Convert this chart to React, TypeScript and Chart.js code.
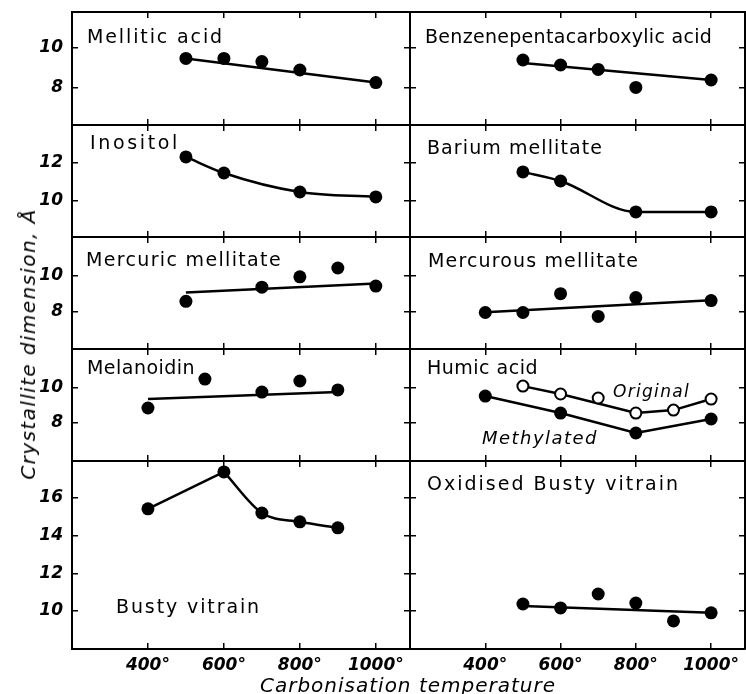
import React, { useEffect, useRef } from "react";
import { Chart, registerables } from "chart.js";
Chart.register(...registerables);

// ---------------- Data ----------------
const TEMP_TICKS = [400, 600, 800, 1000];

const melliticTemps = [500, 600, 700, 800, 1000];
const melliticValues = [9.48, 9.48, 9.32, 8.9, 8.27];
const melliticFitTemps = [500, 1000];
const melliticFitValues = [9.48, 8.27];

const benzeneTemps = [500, 600, 700, 800, 1000];
const benzeneValues = [9.4, 9.15, 8.93, 8.03, 8.4];
const benzeneFitTemps = [500, 1000];
const benzeneFitValues = [9.25, 8.4];

const inositolTemps = [500, 600, 800, 1000];
const inositolValues = [12.32, 11.47, 10.47, 10.21];

const bariumTemps = [500, 600, 800, 1000];
const bariumValues = [11.53, 11.05, 9.42, 9.42];

const mercuricTemps = [500, 700, 800, 900, 1000];
const mercuricValues = [8.57, 9.37, 9.95, 10.45, 9.43];
const mercuricFitTemps = [500, 1000];
const mercuricFitValues = [9.07, 9.58];

const mercurousTemps = [400, 500, 600, 700, 800, 1000];
const mercurousValues = [7.94, 7.94, 9.0, 7.72, 8.78, 8.61];
const mercurousFitTemps = [400, 1000];
const mercurousFitValues = [7.96, 8.63];

const melanoidinTemps = [400, 550, 700, 800, 900];
const melanoidinValues = [8.86, 10.51, 9.77, 10.4, 9.89];
const melanoidinFitTemps = [400, 900];
const melanoidinFitValues = [9.37, 9.77];

const humicOriginalTemps = [500, 600, 700, 800, 900, 1000];
const humicOriginalValues = [10.11, 9.66, 9.43, 8.57, 8.74, 9.37];
const humicOriginalLineTemps = [500, 600, 800, 900, 1000];
const humicOriginalLineValues = [10.11, 9.66, 8.57, 8.74, 9.37];
const humicMethylatedTemps = [400, 600, 800, 1000];
const humicMethylatedValues = [9.54, 8.57, 7.43, 8.23];

const bustyTemps = [400, 600, 700, 800, 900];
const bustyValues = [15.42, 17.38, 15.2, 14.73, 14.41];

const oxidisedTemps = [500, 600, 700, 800, 900, 1000];
const oxidisedValues = [10.37, 10.16, 10.9, 10.42, 9.47, 9.9];
const oxidisedFitTemps = [500, 1000];
const oxidisedFitValues = [10.26, 9.9];

const ROW_Y_MIN = [6.15, 8.1, 5.88, 5.83, 7.98];
const ROW_Y_MAX = [11.8, 14.0, 12.2, 12.23, 17.96];
const ROW_Y_TICKS = [[8, 10], [10, 12], [8, 10], [8, 10], [10, 12, 14, 16]];
const TEMP_MIN = 200;
const TEMP_MAX = 1090;

// ---------------- Layout ----------------
const ROW_TOPS = [12, 125, 237, 349, 461];
const ROW_BOTTOMS = [125, 237, 349, 461, 649];
const COL_LEFTS = [72, 410];
const COL_RIGHTS = [410, 745];
const FONT = '"DejaVu Sans", sans-serif';

const toPts = (t: number[], v: number[]) => t.map((x, i) => ({ x, y: v[i] }));
const dots = (t: number[], v: number[]) => ({
  data: toPts(t, v),
  showLine: false,
  pointRadius: 6.5,
  pointHoverRadius: 6.5,
  pointBackgroundColor: "#000",
  pointBorderColor: "#000",
  pointBorderWidth: 0,
  order: 0,
});
const openDots = (t: number[], v: number[]) => ({
  data: toPts(t, v),
  showLine: false,
  pointRadius: 5.5,
  pointHoverRadius: 5.5,
  pointBackgroundColor: "#fff",
  pointBorderColor: "#000",
  pointBorderWidth: 2,
  order: 0,
});
const line = (t: number[], v: number[], curve = false) => ({
  data: toPts(t, v),
  showLine: true,
  pointRadius: 0,
  pointHoverRadius: 0,
  borderColor: "#000",
  borderWidth: 2.5,
  tension: 0,
  cubicInterpolationMode: curve ? "monotone" : "default",
  order: 1,
});

// x, y: text start / baseline relative to the panel's top-left corner; w: target text width
type Label = { text: string; x: number; y: number; w: number; italic?: boolean; size?: number };
type PanelDef = { row: number; col: number; labels: Label[]; sets: () => any[] };

const PANELS: PanelDef[] = [
  {
    row: 0, col: 0,
    labels: [{ text: "Mellitic acid", x: 15, y: 31, w: 137 }],
    sets: () => [dots(melliticTemps, melliticValues), line(melliticFitTemps, melliticFitValues)],
  },
  {
    row: 0, col: 1,
    labels: [{ text: "Benzenepentacarboxylic acid", x: 15, y: 31, w: 287 }],
    sets: () => [dots(benzeneTemps, benzeneValues), line(benzeneFitTemps, benzeneFitValues)],
  },
  {
    row: 1, col: 0,
    labels: [{ text: "Inositol", x: 18, y: 24, w: 90 }],
    sets: () => [dots(inositolTemps, inositolValues), line(inositolTemps, inositolValues, true)],
  },
  {
    row: 1, col: 1,
    labels: [{ text: "Barium mellitate", x: 17, y: 29, w: 176 }],
    sets: () => [dots(bariumTemps, bariumValues), line(bariumTemps, bariumValues, true)],
  },
  {
    row: 2, col: 0,
    labels: [{ text: "Mercuric mellitate", x: 14, y: 29, w: 196 }],
    sets: () => [dots(mercuricTemps, mercuricValues), line(mercuricFitTemps, mercuricFitValues)],
  },
  {
    row: 2, col: 1,
    labels: [{ text: "Mercurous mellitate", x: 18, y: 30, w: 211 }],
    sets: () => [dots(mercurousTemps, mercurousValues), line(mercurousFitTemps, mercurousFitValues)],
  },
  {
    row: 3, col: 0,
    labels: [{ text: "Melanoidin", x: 15, y: 25, w: 108 }],
    sets: () => [dots(melanoidinTemps, melanoidinValues), line(melanoidinFitTemps, melanoidinFitValues)],
  },
  {
    row: 3, col: 1,
    labels: [
      { text: "Humic acid", x: 17, y: 25, w: 111 },
      { text: "Original", x: 203, y: 48, w: 77, italic: true, size: 17 },
      { text: "Methylated", x: 72, y: 95, w: 116, italic: true, size: 18 },
    ],
    sets: () => [
      openDots(humicOriginalTemps, humicOriginalValues),
      dots(humicMethylatedTemps, humicMethylatedValues),
      line(humicOriginalLineTemps, humicOriginalLineValues),
      line(humicMethylatedTemps, humicMethylatedValues),
    ],
  },
  {
    row: 4, col: 0,
    labels: [{ text: "Busty vitrain", x: 44, y: 152, w: 145 }],
    sets: () => [
      dots(bustyTemps, bustyValues),
      line(bustyTemps.slice(0, 2), bustyValues.slice(0, 2)),
      line(bustyTemps.slice(1), bustyValues.slice(1), true),
    ],
  },
  {
    row: 4, col: 1,
    labels: [{ text: "Oxidised Busty vitrain", x: 17, y: 29, w: 253 }],
    sets: () => [dots(oxidisedTemps, oxidisedValues), line(oxidisedFitTemps, oxidisedFitValues)],
  },
];

const TICK_LEN = -6;
const gridOpts = {
  display: true,
  drawOnChartArea: false,
  drawTicks: true,
  tickLength: TICK_LEN,
  color: "#000",
  lineWidth: 1.5,
};
const borderOpts = { display: true, color: "#000", width: 2 };

const zeroPad = (s: any) => {
  s.paddingTop = 0;
  s.paddingBottom = 0;
  s.paddingLeft = 0;
  s.paddingRight = 0;
};

function Panel({ p }: { p: PanelDef }) {
  const ref = useRef<HTMLCanvasElement | null>(null);
  const padL = p.col === 0 ? 72 : 4;
  const padR = 4;
  const padT = 4;
  const padB = p.row === 4 ? 34 : 4;
  const left = COL_LEFTS[p.col] - padL;
  const top = ROW_TOPS[p.row] - padT;
  const width = COL_RIGHTS[p.col] - COL_LEFTS[p.col] + padL + padR;
  const height = ROW_BOTTOMS[p.row] - ROW_TOPS[p.row] + padT + padB;

  useEffect(() => {
    if (!ref.current) return;
    const labels = p.labels;
    const textPlugin = {
      id: "panelText",
      afterDatasetsDraw(chart: any) {
        const ctx = chart.ctx;
        const { left: l, top: t } = chart.chartArea;
        labels.forEach((lb) => {
          ctx.save();
          ctx.fillStyle = "#000";
          ctx.textAlign = "left";
          ctx.textBaseline = "alphabetic";
          const size = lb.size || 19;
          ctx.font = `${lb.italic ? "italic " : ""}${size}px ${FONT}`;
          const base = ctx.measureText(lb.text).width;
          const spacing = Math.max(0, (lb.w - base) / lb.text.length);
          try {
            (ctx as any).letterSpacing = `${spacing.toFixed(2)}px`;
          } catch (e) {}
          ctx.fillText(lb.text, l + lb.x, t + lb.y);
          ctx.restore();
        });
      },
    };
    const yTicks = ROW_Y_TICKS[p.row];
    const xTicksFn = (s: any) => {
      s.ticks = TEMP_TICKS.map((v) => ({ value: v }));
    };
    const yTicksFn = (s: any) => {
      s.ticks = yTicks.map((v) => ({ value: v }));
    };
    const tickFont = { family: FONT, size: 17, style: "italic" as const, weight: "bold" as const };
    const chart = new Chart(ref.current, {
      type: "scatter",
      data: { datasets: p.sets() },
      plugins: [textPlugin],
      options: {
        animation: false,
        responsive: true,
        maintainAspectRatio: false,
        events: [],
        layout: { padding: 0, autoPadding: false },
        plugins: { legend: { display: false }, tooltip: { enabled: false } },
        scales: {
          x: {
            type: "linear",
            axis: "x",
            position: "bottom",
            min: TEMP_MIN,
            max: TEMP_MAX,
            afterBuildTicks: xTicksFn,
            afterFit: (s: any) => {
              s.height = padB;
              zeroPad(s);
            },
            ticks: {
              display: p.row === 4,
              callback: (v: any) => `${v}°`,
              font: tickFont,
              color: "#000",
              padding: 12,
              maxRotation: 0,
              autoSkip: false,
            },
            grid: gridOpts,
            border: borderOpts,
          },
          xTop: {
            type: "linear",
            axis: "x",
            position: "top",
            min: TEMP_MIN,
            max: TEMP_MAX,
            afterBuildTicks: xTicksFn,
            afterFit: (s: any) => {
              s.height = padT;
              zeroPad(s);
            },
            ticks: { display: false },
            grid: gridOpts,
            border: borderOpts,
          },
          y: {
            type: "linear",
            axis: "y",
            position: "left",
            min: ROW_Y_MIN[p.row],
            max: ROW_Y_MAX[p.row],
            afterBuildTicks: yTicksFn,
            afterFit: (s: any) => {
              s.width = padL;
              zeroPad(s);
            },
            ticks: {
              display: p.col === 0,
              callback: (v: any) => `${v}`,
              font: tickFont,
              color: "#000",
              padding: 15,
              autoSkip: false,
            },
            grid: gridOpts,
            border: borderOpts,
          },
          yRight: {
            type: "linear",
            axis: "y",
            position: "right",
            min: ROW_Y_MIN[p.row],
            max: ROW_Y_MAX[p.row],
            afterBuildTicks: yTicksFn,
            afterFit: (s: any) => {
              s.width = padR;
              zeroPad(s);
            },
            ticks: { display: false },
            grid: gridOpts,
            border: borderOpts,
          },
        },
      } as any,
    });
    return () => chart.destroy();
  }, []);

  return (
    <div style={{ position: "absolute", left, top, width, height }}>
      <canvas ref={ref} />
    </div>
  );
}

export default function App() {
  return (
    <div
      style={{
        position: "absolute",
        left: 0,
        top: 0,
        width: 746,
        height: 694,
        overflow: "hidden",
        background: "#fff",
      }}
    >
      {PANELS.map((p, i) => (
        <Panel key={i} p={p} />
      ))}
      <div
        style={{
          position: "absolute",
          left: 28,
          top: 344,
          transform: "translate(-50%, -50%) rotate(-90deg)",
          fontFamily: FONT,
          fontStyle: "italic",
          fontSize: 20,
          letterSpacing: "1.4px",
          whiteSpace: "nowrap",
          lineHeight: "20px",
          color: "#000",
        }}
      >
        Crystallite dimension, Å
      </div>
      <div
        style={{
          position: "absolute",
          left: 408,
          top: 675,
          transform: "translateX(-50%)",
          fontFamily: FONT,
          fontStyle: "italic",
          fontSize: 20,
          letterSpacing: "1px",
          whiteSpace: "nowrap",
          lineHeight: "20px",
          color: "#000",
        }}
      >
        Carbonisation temperature
      </div>
    </div>
  );
}
